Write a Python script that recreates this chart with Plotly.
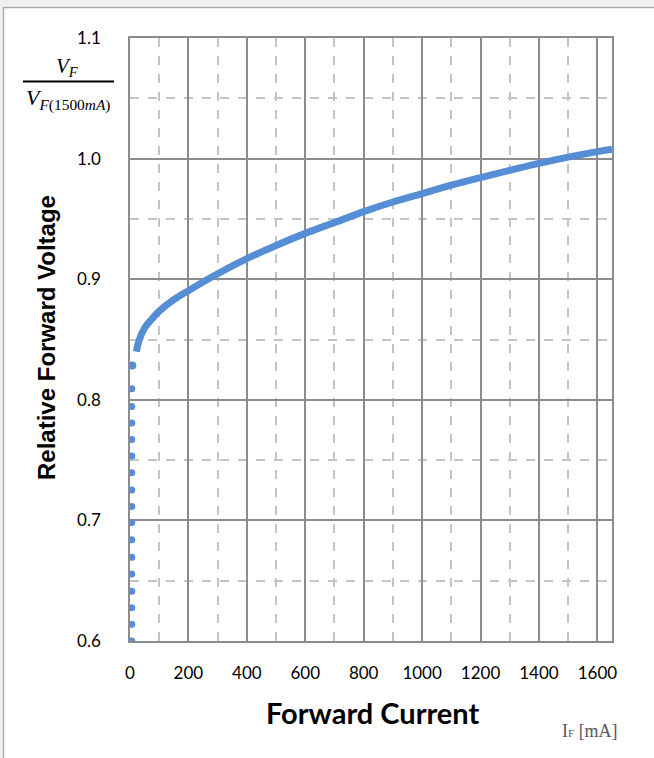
import plotly.graph_objects as go

# Forward current sweep (mA) and relative forward voltage V_F / V_F(1500mA)
current_ma = [22, 30, 50, 75, 100, 150, 200, 300, 400, 500, 600, 700, 800, 900,
              1000, 1100, 1200, 1300, 1400, 1500, 1600, 1650]
rel_voltage = [0.840, 0.8485, 0.8595, 0.867, 0.8735, 0.883, 0.8905, 0.9045, 0.917,
               0.928, 0.938, 0.947, 0.956, 0.964, 0.971, 0.978, 0.9843, 0.9903,
               0.996, 1.0012, 1.0058, 1.0078]

# Low-current points sitting on the vertical axis
low_current_ma = [6] * 16
low_voltage = [0.600, 0.6138, 0.6275, 0.6413, 0.6556, 0.6694, 0.6840, 0.6983,
               0.7115, 0.7252, 0.7395, 0.7535, 0.7670, 0.7807, 0.7945, 0.8091]
knee_current_ma = [8]
knee_voltage = [0.8284]

x_ticks = [0, 200, 400, 600, 800, 1000, 1200, 1400, 1600]
y_ticks = [0.6, 0.7, 0.8, 0.9, 1.0, 1.1]

BLUE = "#558ED5"
W, H = 654, 758
L, R, T, B = 130, 612, 38, 641


def px(x):
    return (x - L) / (R - L)


def py(y):
    return (B - y) / (B - T)


fig = go.Figure()
fig.add_trace(go.Scatter(x=low_current_ma, y=low_voltage, mode="markers",
                         marker=dict(size=7, color=BLUE), showlegend=False,
                         hoverinfo="skip"))
fig.add_trace(go.Scatter(x=knee_current_ma, y=knee_voltage, mode="markers",
                         marker=dict(size=8, color=BLUE), showlegend=False,
                         hoverinfo="skip"))
fig.add_trace(go.Scatter(x=current_ma, y=rel_voltage, mode="lines",
                         line=dict(color=BLUE, width=7, shape="spline", smoothing=1.0),
                         showlegend=False))

axis_common = dict(
    showline=True, mirror=True, linecolor="#8c8c8c", linewidth=1.5,
    showgrid=True, gridcolor="#8c8c8c", gridwidth=1.5,
    zeroline=False, ticks="",
    tickfont=dict(family="Lato", size=17, color="#000000"),
)

fig.update_xaxes(range=[0, 1650], tickvals=x_ticks,
                 ticktext=[str(v) for v in x_ticks], ticklabelstandoff=16,
                 minor=dict(dtick=100, tick0=0, showgrid=True, griddash="dash",
                            gridcolor="#c4c4c4", gridwidth=1.5),
                 **axis_common)
fig.update_yaxes(range=[0.6, 1.1], tickvals=y_ticks,
                 ticktext=[f"{v:.1f}" for v in y_ticks], ticklabelstandoff=24,
                 minor=dict(dtick=0.05, tick0=0.6, showgrid=True, griddash="dash",
                            gridcolor="#c4c4c4", gridwidth=1.5),
                 **axis_common)

shapes = [
    # outer chart frame
    dict(type="rect", xref="paper", yref="paper", layer="below",
         x0=px(3.5), y0=py(7.5), x1=px(720), y1=py(820),
         line=dict(color="#aaaaaa", width=1.5), fillcolor="#ffffff"),
    # fraction bar of the axis unit label
    dict(type="line", xref="paper", yref="paper",
         x0=px(23), x1=px(114), y0=py(81.5), y1=py(81.5),
         line=dict(color="#000000", width=2)),
]

annotations = [
    dict(text="Relative Forward Voltage", x=px(46), y=py(338), textangle=-90,
         font=dict(family="Liberation Sans", size=24, color="#000000", weight="bold")),
    dict(text="Forward Current", x=px(373), y=py(712),
         font=dict(family="Lato", size=29, color="#000000", weight="bold")),
    dict(text="I<span style='font-size:11px'>F</span> [mA]", x=px(590), y=py(731),
         font=dict(family="Liberation Serif", size=18, color="#595959")),
    dict(text="<i>V</i><sub><i>F</i></sub>", x=px(67), y=py(67),
         font=dict(family="Liberation Serif", size=21, color="#000000")),
    dict(text="<i>V</i><sub><i>F</i>(1500<i>mA</i>)</sub>", x=px(68), y=py(99),
         font=dict(family="Liberation Serif", size=22, color="#000000")),
]
for a in annotations:
    a.update(xref="paper", yref="paper", showarrow=False,
             xanchor="center", yanchor="middle")

fig.update_layout(
    width=W, height=H,
    margin=dict(l=L, r=W - R, t=T, b=H - B, pad=0),
    paper_bgcolor="#f0f0f0", plot_bgcolor="#ffffff",
    shapes=shapes, annotations=annotations,
    showlegend=False,
)

fig.write_html("out.html")
